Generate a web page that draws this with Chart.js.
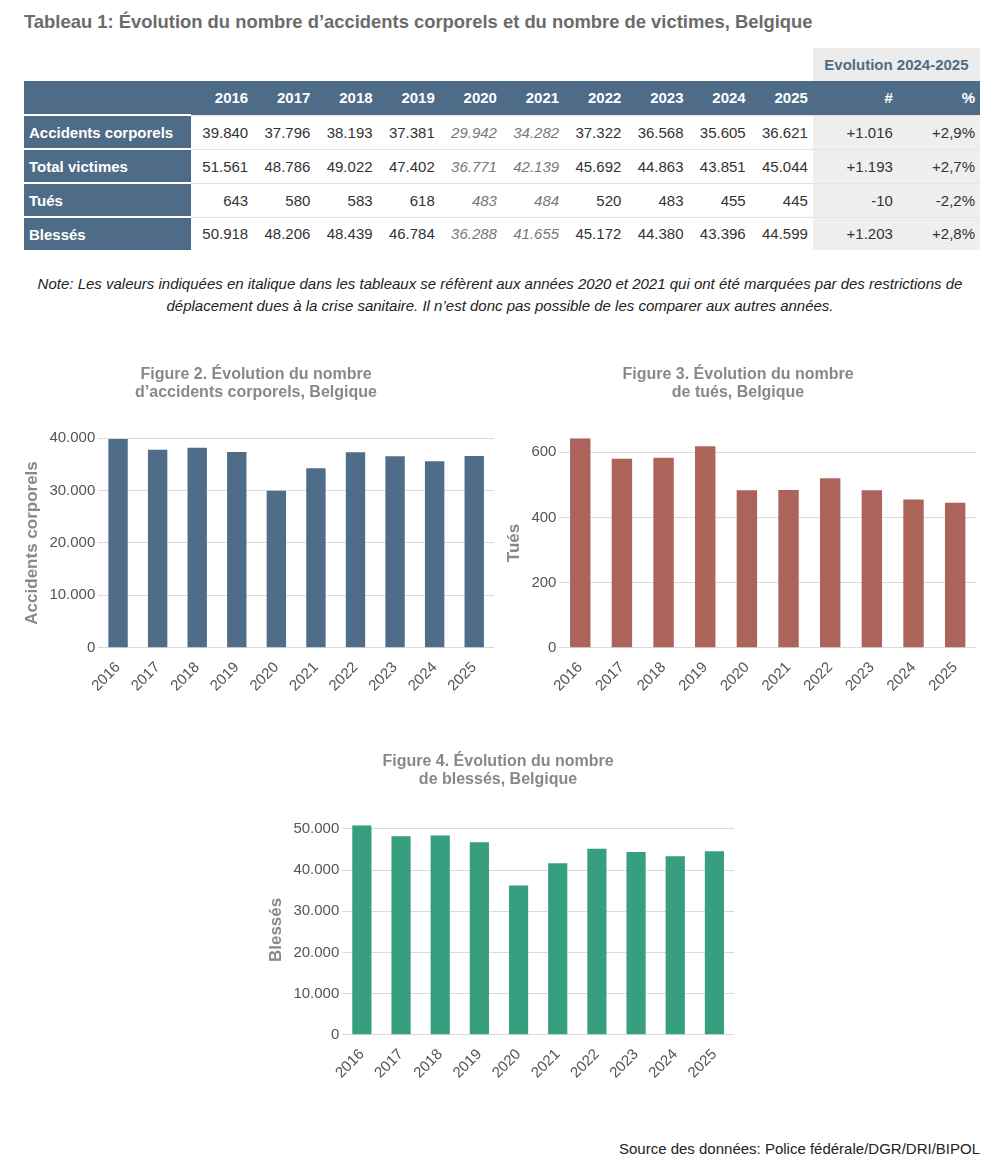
<!DOCTYPE html>
<html lang="fr">
<head>
<meta charset="utf-8">
<title>Accidents corporels et victimes, Belgique</title>
<script src="https://cdn.jsdelivr.net/npm/chart.js@4.4.1/dist/chart.umd.min.js"></script>
<style>
    body {
        margin: 0;
        width: 1000px;
        height: 1168px;
        position: relative;
        background: #fff;
        font-family: "Liberation Sans", Arial, sans-serif;
        color: #333;
    }
    #page-title {
        position: absolute;
        left: 24px;
        top: 11px;
        font-size: 18.4px;
        font-weight: bold;
        color: #6b6b6b;
    }
    #tbl {
        position: absolute;
        left: 24px;
        top: 48px;
        width: 956px;
        border-collapse: collapse;
        font-size: 15px;
    }
    #tbl td, #tbl th {
        height: 33px;
        padding: 0 5px;
        text-align: right;
        white-space: nowrap;
    }
    #tbl tbody td { height: 32px; }
    #tbl tr.top th { background: #fff; }
    #tbl tr.top th.evo {
        background: #ececec;
        color: #4e6c87;
        text-align: center;
    }
    #tbl tr.head th {
        background: #4e6c87;
        color: #fff;
    }
    #tbl tbody td { border-top: 1px solid #e4e4e4; }
    #tbl tbody td.lab {
        background: #4e6c87;
        color: #fff;
        font-weight: bold;
        text-align: left;
        border-top: 2px solid #fff;
    }
    #tbl td.ev { background: #efefef; }
    #tbl td.it { font-style: italic; color: #777; }
    #note {
        position: absolute;
        left: 20px;
        top: 273px;
        width: 960px;
        text-align: center;
        font-style: italic;
        font-size: 15px;
        line-height: 22px;
        color: #222;
    }
    .fig { position: absolute; }
    #source {
        position: absolute;
        right: 20px;
        top: 1140px;
        font-size: 15px;
        color: #222;
    }
</style>
</head>
<body>
<div id="page-title">Tableau 1: Évolution du nombre d’accidents corporels et du nombre de victimes, Belgique</div>
<table id="tbl"></table>
<div id="note">Note: Les valeurs indiquées en italique dans les tableaux se réfèrent aux années 2020 et 2021 qui ont été marquées par des restrictions de déplacement dues à la crise sanitaire. Il n’est donc pas possible de les comparer aux autres années.</div>

<div class="fig" style="left:18px;top:358px;width:482px;height:340px"><canvas id="fig2"></canvas></div>
<div class="fig" style="left:500px;top:358px;width:482px;height:340px"><canvas id="fig3"></canvas></div>
<div class="fig" style="left:262px;top:745px;width:478px;height:340px"><canvas id="fig4"></canvas></div>

<div id="source">Source des données: Police fédérale/DGR/DRI/BIPOL</div>

<script>
    // Data
    const years = ["2016", "2017", "2018", "2019", "2020", "2021", "2022", "2023", "2024", "2025"];
    const accidents = [39840, 37796, 38193, 37381, 29942, 34282, 37322, 36568, 35605, 36621];
    const victims = [51561, 48786, 49022, 47402, 36771, 42139, 45692, 44863, 43851, 45044];
    const killed = [643, 580, 583, 618, 483, 484, 520, 483, 455, 445];
    const injured = [50918, 48206, 48439, 46784, 36288, 41655, 45172, 44380, 43396, 44599];
    const italicYears = ["2020", "2021"];

    // Y-axis tick values
    const accidentTicks = [0, 10000, 20000, 30000, 40000];
    const killedTicks = [0, 200, 400, 600];
    const injuredTicks = [0, 10000, 20000, 30000, 40000, 50000];

    const fmt = (n) => String(Math.abs(n)).replace(/\B(?=(\d{3})+(?!\d))/g, ".");
    const sign = (n) => (n < 0 ? "-" : "+");

    // Table
    const rows = [
        ["Accidents corporels", accidents],
        ["Total victimes", victims],
        ["Tués", killed],
        ["Blessés", injured],
    ];

    let html = '<colgroup><col style="width:167px">';
    years.forEach(() => { html += '<col style="width:62.2px">'; });
    html += '<col style="width:85px"><col style="width:82px"></colgroup>';
    html += '<thead><tr class="top"><th colspan="11"></th><th class="evo" colspan="2">Evolution 2024-2025</th></tr>';
    html += '<tr class="head"><th></th>';
    years.forEach((y) => { html += `<th>${y}</th>`; });
    html += '<th>#</th><th>%</th></tr></thead><tbody>';
    rows.forEach(([label, vals]) => {
        html += `<tr><td class="lab">${label}</td>`;
        vals.forEach((v, i) => {
            const cls = italicYears.includes(years[i]) ? ' class="it"' : "";
            html += `<td${cls}>${fmt(v)}</td>`;
        });
        const a = vals[vals.length - 2];
        const b = vals[vals.length - 1];
        const diff = b - a;
        const pct = ((diff / a) * 100).toFixed(1).replace("-", "").replace(".", ",");
        html += `<td class="ev">${sign(diff)}${fmt(diff)}</td>`;
        html += `<td class="ev">${sign(diff)}${pct}%</td></tr>`;
    });
    html += "</tbody>";
    document.getElementById("tbl").innerHTML = html;

    // Charts
    const FONT = "'Liberation Sans', Arial, sans-serif";

    function makeChart(id, title, axisTitle, values, color, top, tickValues) {
        const ctx = document.getElementById(id).getContext("2d");
        return new Chart(ctx, {
            type: "bar",
            data: {
                labels: years,
                datasets: [
                    {
                        label: axisTitle,
                        data: values,
                        backgroundColor: color,
                        barPercentage: 0.49,
                        categoryPercentage: 1,
                    },
                ],
            },
            options: {
                responsive: true,
                maintainAspectRatio: false,
                animation: false,
                layout: { padding: { right: 6 } },
                plugins: {
                    legend: { display: false },
                    tooltip: { enabled: false },
                    title: {
                        display: true,
                        text: title,
                        color: "#888",
                        font: { family: FONT, size: 16, weight: "bold", lineHeight: 1.1 },
                        padding: { top: 8, bottom: 37 },
                    },
                },
                scales: {
                    x: {
                        grid: { display: false },
                        border: { display: false },
                        ticks: {
                            color: "#555",
                            font: { family: FONT, size: 15 },
                            minRotation: 45,
                            maxRotation: 45,
                        },
                    },
                    y: {
                        min: 0,
                        max: top,
                        afterBuildTicks: (scale) => {
                            scale.ticks = tickValues.map((v) => ({ value: v }));
                        },
                        ticks: {
                            color: "#555",
                            font: { family: FONT, size: 15 },
                            callback: (value) => fmt(value),
                        },
                        grid: { color: "#dadada", drawTicks: false },
                        border: { display: false },
                        title: {
                            display: true,
                            text: axisTitle,
                            color: "#888",
                            font: { family: FONT, size: 17, weight: "bold" },
                        },
                    },
                },
            },
        });
    }

    makeChart("fig2", ["Figure 2. Évolution du nombre", "d’accidents corporels, Belgique"],
        "Accidents corporels", accidents, "#4f6d88", 40000, accidentTicks);
    makeChart("fig3", ["Figure 3. Évolution du nombre", "de tués, Belgique"],
        "Tués", killed, "#ac635a", 643, killedTicks);
    makeChart("fig4", ["Figure 4. Évolution du nombre", "de blessés, Belgique"],
        "Blessés", injured, "#379e7f", 50918, injuredTicks);
</script>
</body>
</html>
